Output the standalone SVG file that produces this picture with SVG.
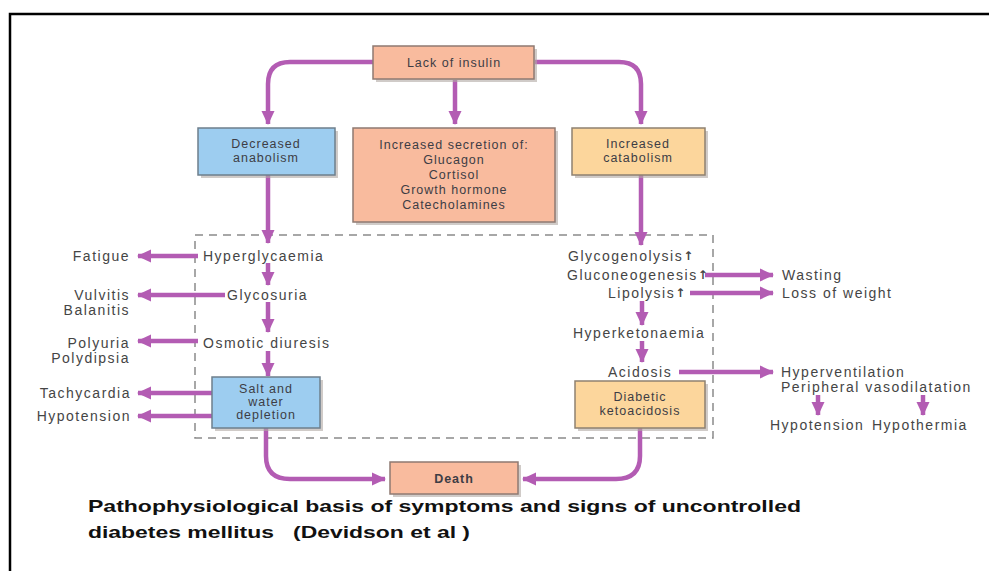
<svg xmlns="http://www.w3.org/2000/svg" width="989" height="571" viewBox="0 0 989 571">
<style>
.t{font-family:"Liberation Sans",Arial,sans-serif;font-size:14px;fill:#454545;letter-spacing:1.5px}
.up{font-family:"DejaVu Sans",sans-serif;font-size:12px;font-weight:bold}
.bt{font-family:"Liberation Sans",Arial,sans-serif;font-size:12.5px;fill:#3d3d45;letter-spacing:1px;text-anchor:middle}
.c{fill:none;stroke:#b35cb3;stroke-width:4.5}
.sh{fill:#b0a8a4;opacity:0.6}
.salmon{fill:#f9bb9e;stroke:#8e7a72;stroke-width:1.5}
.blue{fill:#9dcdf0;stroke:#6e7f8c;stroke-width:1.5}
.orange{fill:#fcd69c;stroke:#8e8170;stroke-width:1.5}
.title{font-family:"Liberation Sans",Arial,sans-serif;font-size:17px;font-weight:bold;fill:#111}
</style>
<defs>
<marker id="ah" markerUnits="userSpaceOnUse" markerWidth="15" markerHeight="15" viewBox="0 0 15 15" refX="13" refY="7.5" orient="auto">
<path d="M0,1 L14,7.5 L0,14 Z" fill="#b35cb3"/>
</marker>
</defs>
<rect width="989" height="571" fill="#fff"/>
<path d="M10,571 V14 H989" fill="none" stroke="#000" stroke-width="2.5"/>

<rect x="195" y="235" width="518" height="203" fill="none" stroke="#8a8a8a" stroke-width="1.5" stroke-dasharray="8,6"/>

<g id="connectors">
<path class="c" d="M374,62 H290 Q268,62 268,84 V124" marker-end="url(#ah)"/>
<path class="c" d="M455,80 V124" marker-end="url(#ah)"/>
<path class="c" d="M535,62 H619 Q641,62 641,84 V124" marker-end="url(#ah)"/>
<path class="c" d="M268,175 V243" marker-end="url(#ah)"/>
<path class="c" d="M268,263 V285" marker-end="url(#ah)"/>
<path class="c" d="M268,302 V332" marker-end="url(#ah)"/>
<path class="c" d="M268,351 V376" marker-end="url(#ah)"/>
<path class="c" d="M198,256 H138" marker-end="url(#ah)"/>
<path class="c" d="M225,295 H138" marker-end="url(#ah)"/>
<path class="c" d="M198,341 H138" marker-end="url(#ah)"/>
<path class="c" d="M212,393 H138" marker-end="url(#ah)"/>
<path class="c" d="M212,416 H138" marker-end="url(#ah)"/>
<path class="c" d="M266,428 V456 Q266,479 290,479 H385" marker-end="url(#ah)"/>
<path class="c" d="M641,175 V245" marker-end="url(#ah)"/>
<path class="c" d="M705,275 H773" marker-end="url(#ah)"/>
<path class="c" d="M690,293 H773" marker-end="url(#ah)"/>
<path class="c" d="M642,301 V325" marker-end="url(#ah)"/>
<path class="c" d="M642,341 V362" marker-end="url(#ah)"/>
<path class="c" d="M679,372 H773" marker-end="url(#ah)"/>
<path class="c" d="M818,395 V415" marker-end="url(#ah)"/>
<path class="c" d="M923,395 V415" marker-end="url(#ah)"/>
<path class="c" d="M640,428 V456 Q640,479 616,479 H523" marker-end="url(#ah)"/>
</g>

<g id="lack-of-insulin">
<rect class="sh" x="376" y="49" width="161" height="33"/>
<rect class="salmon" x="373" y="46" width="161" height="33"/>
<text class="bt" x="454" y="67" font-size="13.5">Lack of insulin</text>
</g>
<g id="decreased-anabolism">
<rect class="sh" x="201" y="131" width="137" height="47"/>
<rect class="blue" x="198" y="128" width="137" height="47"/>
<text class="bt" x="266" y="148">Decreased</text>
<text class="bt" x="266" y="162">anabolism</text>
</g>
<g id="increased-secretion">
<rect class="sh" x="356" y="131" width="202" height="94"/>
<rect class="salmon" x="353" y="128" width="202" height="94"/>
<text class="bt" x="454" y="149" font-size="13">Increased secretion of:</text>
<text class="bt" x="454" y="164" font-size="13">Glucagon</text>
<text class="bt" x="454" y="179" font-size="13">Cortisol</text>
<text class="bt" x="454" y="194" font-size="13">Growth hormone</text>
<text class="bt" x="454" y="209" font-size="13">Catecholamines</text>
</g>
<g id="increased-catabolism">
<rect class="sh" x="575" y="131" width="133" height="47"/>
<rect class="orange" x="572" y="128" width="133" height="47"/>
<text class="bt" x="638" y="148">Increased</text>
<text class="bt" x="638" y="162">catabolism</text>
</g>

<g id="hyperglycaemia"><text class="t" x="203" y="261">Hyperglycaemia</text></g>
<g id="fatigue"><text class="t" x="130" y="261" text-anchor="end">Fatigue</text></g>
<g id="glycosuria"><text class="t" x="227" y="300">Glycosuria</text></g>
<g id="vulvitis"><text class="t" x="130" y="300" text-anchor="end">Vulvitis</text><text class="t" x="130" y="315" text-anchor="end">Balanitis</text></g>
<g id="osmotic-diuresis"><text class="t" x="203" y="348">Osmotic diuresis</text></g>
<g id="polyuria"><text class="t" x="130" y="348" text-anchor="end">Polyuria</text><text class="t" x="130" y="363" text-anchor="end">Polydipsia</text></g>
<g id="salt-water">
<rect class="sh" x="215" y="380" width="108" height="51"/>
<rect class="blue" x="212" y="377" width="108" height="51"/>
<text class="bt" x="266" y="393" font-size="11.5">Salt and</text>
<text class="bt" x="266" y="406" font-size="11.5">water</text>
<text class="bt" x="266" y="419" font-size="11.5">depletion</text>
</g>
<g id="tachycardia"><text class="t" x="131" y="398" text-anchor="end">Tachycardia</text></g>
<g id="hypotension-l"><text class="t" x="131" y="421" text-anchor="end">Hypotension</text></g>

<g id="glycogenolysis"><text class="t" x="568" y="261">Glycogenolysis<tspan class="up" dy="-1">↑</tspan></text></g>
<g id="gluconeogenesis"><text class="t" x="567" y="280">Gluconeogenesis<tspan class="up" dy="-1">↑</tspan></text></g>
<g id="lipolysis"><text class="t" x="608" y="298">Lipolysis<tspan class="up" dy="-1">↑</tspan></text></g>
<g id="wasting"><text class="t" x="782" y="280">Wasting</text></g>
<g id="loss-of-weight"><text class="t" x="782" y="298">Loss of weight</text></g>
<g id="hyperketonaemia"><text class="t" x="573" y="338">Hyperketonaemia</text></g>
<g id="acidosis"><text class="t" x="608" y="377">Acidosis</text></g>
<g id="hyperventilation"><text class="t" x="781" y="377">Hyperventilation</text><text class="t" x="781" y="392">Peripheral vasodilatation</text></g>
<g id="hypotension-r"><text class="t" x="770" y="430">Hypotension</text></g>
<g id="hypothermia"><text class="t" x="872" y="430">Hypothermia</text></g>
<g id="dka">
<rect class="sh" x="578" y="384" width="130" height="47"/>
<rect class="orange" x="575" y="381" width="130" height="47"/>
<text class="bt" x="640" y="401">Diabetic</text>
<text class="bt" x="640" y="415">ketoacidosis</text>
</g>
<g id="death">
<rect class="sh" x="393" y="465" width="128" height="32"/>
<rect class="salmon" x="390" y="462" width="128" height="32"/>
<text class="bt" x="454" y="483" font-size="13" font-weight="bold">Death</text>
</g>

<text class="title" x="88" y="512" textLength="713" lengthAdjust="spacingAndGlyphs">Pathophysiological basis of symptoms and signs of uncontrolled</text>
<text class="title" x="88" y="538" textLength="382" lengthAdjust="spacingAndGlyphs" xml:space="preserve">diabetes mellitus   (Devidson et al )</text>
</svg>
